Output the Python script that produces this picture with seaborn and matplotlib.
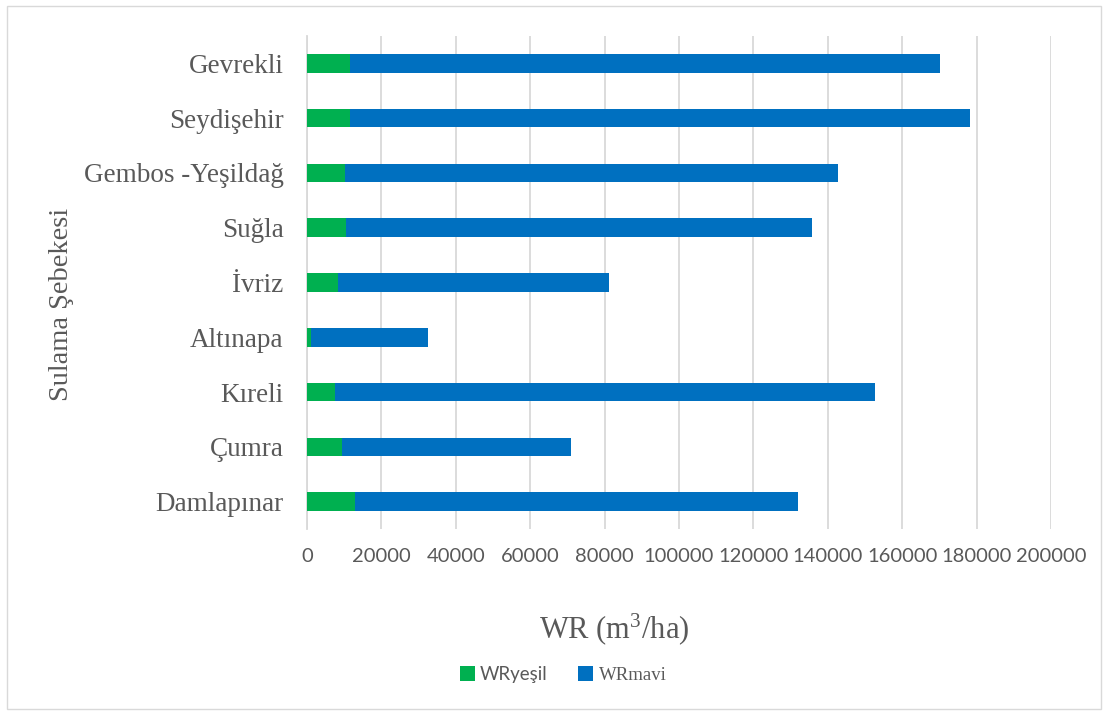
import matplotlib
matplotlib.use("Agg")
import matplotlib.pyplot as plt
import seaborn as sns
import pandas as pd
from matplotlib.patches import Patch, Rectangle

categories = ["Gevrekli", "Seydişehir", "Gembos -Yeşildağ", "Suğla", "İvriz",
              "Altınapa", "Kıreli", "Çumra", "Damlapınar"]
wr_yesil = [11450, 11640, 10200, 10570, 8410, 1160, 7420, 9400, 12980]
wr_mavi = [158790, 166480, 132440, 125180, 72850, 31370, 145350, 61650, 118900]
xticks = [0, 20000, 40000, 60000, 80000, 100000, 120000, 140000, 160000, 180000, 200000]

green = "#00B050"
blue = "#0070C0"

df = pd.DataFrame({"cat": categories,
                   "yesil": wr_yesil,
                   "mavi": wr_mavi})
df["total"] = df["yesil"] + df["mavi"]

sns.set_style("white")
plt.rcParams["mathtext.fontset"] = "custom"
plt.rcParams["mathtext.rm"] = "Liberation Serif"
plt.rcParams["mathtext.it"] = "Liberation Serif:italic"
W, H = 1108, 713
fig = plt.figure(figsize=(W / 100, H / 100), dpi=100)
ax_left, ax_right, ax_top, ax_bottom = 307, 1051, 36, 529
ax = fig.add_axes([ax_left / W, 1 - ax_bottom / H, (ax_right - ax_left) / W,
                   (ax_bottom - ax_top) / H])

sns.barplot(data=df, y="cat", x="total", order=categories, color=blue,
            width=0.34, saturation=1, ax=ax, orient="h", zorder=3)
sns.barplot(data=df, y="cat", x="yesil", order=categories, color=green,
            width=0.34, saturation=1, ax=ax, orient="h", zorder=4)
for p in ax.patches:
    p.set_edgecolor("none")

ax.set_xlim(0, 200000)
ax.set_xticks(xticks)
ax.set_xticklabels([str(t) for t in xticks], fontsize=14.5, color="#595959",
                   family=["Lato", "DejaVu Sans"])
ax.set_yticklabels(categories, fontsize=19.5, family="Liberation Serif", color="#595959")
ax.tick_params(axis="x", length=0, pad=14)
ax.tick_params(axis="y", length=0, pad=17)
ax.xaxis.grid(True, color="#d9d9d9", linewidth=1.3, zorder=0)
ax.yaxis.grid(False)
ax.set_axisbelow(True)
for s in ["top", "right", "bottom"]:
    ax.spines[s].set_visible(False)
ax.spines["left"].set_color("#d9d9d9")
ax.spines["left"].set_linewidth(1.3)

ax.set_xlabel("WR (m$\\mathrm{^3}$/ha)", fontsize=22, family="Liberation Serif",
              color="#595959", va="center", ha="center")
ax.xaxis.set_label_coords((614 - ax_left) / (ax_right - ax_left),
                          1 - (629 - ax_top) / (ax_bottom - ax_top))
ax.set_ylabel("Sulama Şebekesi", fontsize=20.5, family="Liberation Serif",
              color="#595959", va="center", ha="center")
ax.yaxis.set_label_coords((61 - ax_left) / (ax_right - ax_left),
                          1 - (304 - ax_top) / (ax_bottom - ax_top))

h1 = Patch(facecolor=green, edgecolor="none")
h2 = Patch(facecolor=blue, edgecolor="none")
leg = fig.legend([h1, h2], ["WRyeşil", "WRmavi"], loc="center",
                 bbox_to_anchor=(563 / W, 1 - 675 / H), ncol=2, frameon=False,
                 handlelength=0.8, handleheight=0.8, handletextpad=0.3,
                 columnspacing=1.6, fontsize=13.5)
leg.get_texts()[0].set_family(["Lato", "DejaVu Sans"])
leg.get_texts()[0].set_color("#595959")
leg.get_texts()[1].set_family("Liberation Serif")
leg.get_texts()[1].set_color("#595959")

fig.patches.append(Rectangle((7 / W, 1 - 709 / H), (1101 - 7) / W, (709 - 6) / H,
                             transform=fig.transFigure, fill=False,
                             edgecolor="#d9d9d9", linewidth=1))

fig.savefig("out.png", dpi=100)
